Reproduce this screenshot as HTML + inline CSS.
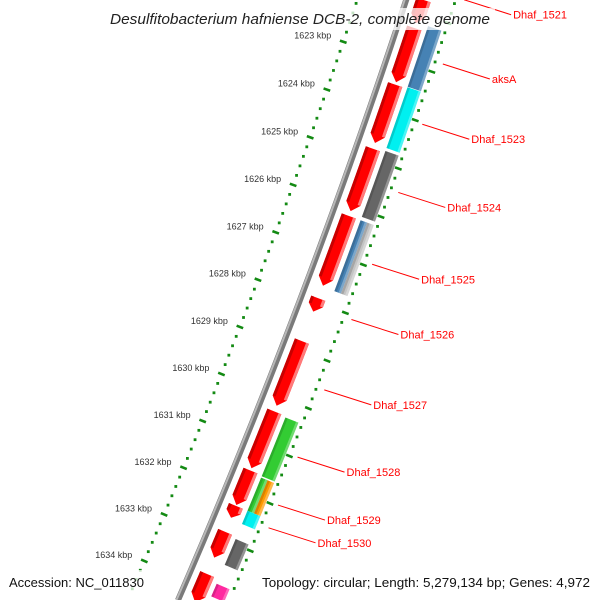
<!DOCTYPE html>
<html><head><meta charset="utf-8"><style>
html,body{margin:0;padding:0;background:#fff;width:600px;height:600px;overflow:hidden;}
svg{display:block;overflow:hidden;}
text{font-family:"Liberation Sans","DejaVu Sans",sans-serif;}
</style></head><body>
<svg id="map" width="600" height="600" viewBox="0 0 600 600" xmlns="http://www.w3.org/2000/svg">
<g id="ruler"></g>
<g id="backbone"></g>
<g id="features"></g>
<g id="labels"></g>
<rect x="105" y="8" width="390" height="22" fill="#fff" opacity="0.75"/>
<text x="300" y="24" text-anchor="middle" font-style="italic" font-size="15" fill="#222" textLength="380" lengthAdjust="spacingAndGlyphs">Desulfitobacterium hafniense DCB-2, complete genome</text>
<rect x="6" y="570" width="142" height="22" fill="#fff" opacity="0.75"/>
<text x="9" y="587" font-size="13" fill="#111" textLength="135" lengthAdjust="spacingAndGlyphs">Accession: NC_011830</text>
<rect x="258" y="570" width="336" height="22" fill="#fff" opacity="0.75"/>
<text x="590" y="587" text-anchor="end" font-size="13" fill="#111" textLength="328" lengthAdjust="spacingAndGlyphs">Topology: circular; Length: 5,279,134 bp; Genes: 4,972</text>
</svg>
<script>
// ---- data ----
const redStarts = [1621.72, 1622.3, 1623.47, 1624.8, 1626.2, 1627.92, 1628.82, 1630.3, 1631.55, 1632.3, 1632.85, 1633.75];
const redEnds   = [1622.2, 1623.42, 1624.68, 1626.1, 1627.66, 1628.2, 1630.18, 1631.5, 1632.28, 1632.55, 1633.4, 1634.35];
const cogStarts = [1622.18, 1623.44, 1624.76, 1626.2, 1626.2, 1630.33, 1631.6, 1631.6, 1632.3, 1632.9, 1633.85];
const cogEnds   = [1623.43, 1624.7, 1626.13, 1627.68, 1627.68, 1631.57, 1632.3, 1632.3, 1632.58, 1633.45, 1634.12];
const cogColors = ["#4682b4","#00f0f0","#666666","#4682b4","#c4c4c4","#33cc33","#33cc33","#ff9900","#00f0f0","#666666","#ff2aa0"];
const cogHalf   = [0,0,0,1,2,0,1,2,0,0,0]; // 0 full, 1 inner half, 2 outer half
const labelNames = ["Dhaf_1521","aksA","Dhaf_1523","Dhaf_1524","Dhaf_1525","Dhaf_1526","Dhaf_1527","Dhaf_1528","Dhaf_1529","Dhaf_1530"];
const labelKbp   = [1621.47, 1622.79, 1624.03, 1625.44, 1626.93, 1628.08, 1629.55, 1630.96, 1631.97, 1632.45];
const innerTickStart = 1622.2, innerTickEnd = 1634.6;
const outerTickStart = 1621.6, outerTickEnd = 1633.8;
const labelTicks = [1623,1624,1625,1626,1627,1628,1629,1630,1631,1632,1633,1634];

// ---- geometry ----
const NS="http://www.w3.org/2000/svg";
const R=7000, th0=Math.atan2(0.355,0.935), k0=1628.08, pxPerKbp=50.9;
const CX=300-R*Math.cos(th0), CY=300-R*Math.sin(th0);
function pt(k,off){const t=th0+(k-k0)*pxPerKbp/R;const r=R+off;return [CX+r*Math.cos(t),CY+r*Math.sin(t)];}
function mk(tag,attrs,parent){const e=document.createElementNS(NS,tag);for(const a in attrs)e.setAttribute(a,attrs[a]);parent.appendChild(e);return e;}
function band(k1,k2,o1,o2){const p=[];const n=6;for(let i=0;i<=n;i++)p.push(pt(k1+(k2-k1)*i/n,o1));for(let i=n;i>=0;i--)p.push(pt(k1+(k2-k1)*i/n,o2));return p.map(q=>q[0].toFixed(2)+","+q[1].toFixed(2)).join(" ");}
function arrow(k1,k2,o1,o2){const a=Math.min(0.16,(k2-k1)*0.5);const kb=k2-a;const p=[];const n=6;for(let i=0;i<=n;i++)p.push(pt(k1+(kb-k1)*i/n,o1));p.push(pt(k2,(o1+o2)/2));for(let i=n;i>=0;i--)p.push(pt(k1+(kb-k1)*i/n,o2));return p.map(q=>q[0].toFixed(2)+","+q[1].toFixed(2)).join(" ");}
function arcPath(k1,k2,off){let d="";for(let i=0;i<=40;i++){const q=pt(k1+(k2-k1)*i/40,off);d+=(i?"L":"M")+q[0].toFixed(2)+" "+q[1].toFixed(2);}return d;}

// backbone
const bb=document.getElementById("backbone");
let e=mk("path",{d:arcPath(1621.8,1634.45,0),stroke:"#7a7a7a","stroke-width":6,fill:"none"},bb);


e=mk("path",{d:arcPath(1621.8,1634.45,-1.5),stroke:"#b8b8b8","stroke-width":2,fill:"none"},bb);



// rulers
const ru=document.getElementById("ruler");
[[-46.5,innerTickStart,innerTickEnd],[47,outerTickStart,outerTickEnd]].forEach(([off,ks,ke])=>{
  for(let i=Math.ceil(ks*5);i<=Math.floor(ke*5);i++){
    const k=i/5;
    if(i%5===0){
      const a=pt(k,off-3.5),b=pt(k,off+3.5);
      e=mk("line",{x1:a[0],y1:a[1],x2:b[0],y2:b[1],stroke:"#138a13","stroke-width":2.6},ru);
      
      
    } else {
      const c=pt(k,off);
      e=mk("rect",{x:c[0]-1.4,y:c[1]-1.4,width:2.8,height:2.8,fill:"#138a13"},ru);
      
      
    }
  }
});
labelTicks.forEach(k=>{
  const c=pt(k,-46.5);
  e=mk("text",{x:c[0]-12,y:c[1]-3,"text-anchor":"end","font-size":"9",fill:"#333"},ru);
  e.textContent=k+" kbp";
  
  
});

// features
const fg=document.getElementById("features");
redStarts.forEach((s,i)=>{
  const en=redEnds[i];
  const g=mk("g",{},fg);
  
  
  mk("polygon",{points:arrow(s,en,9,24),fill:"#ff0000"},g);
  const a=Math.min(0.16,(en-s)*0.5);
  mk("polygon",{points:band(s,en-a,9,12),fill:"#c80000"},g);
  mk("polygon",{points:band(s,en-a,21,24),fill:"#ff7a7a"},g);
});
cogStarts.forEach((s,i)=>{
  let o1=29,o2=43;
  if(cogHalf[i]===1)o2=36; else if(cogHalf[i]===2)o1=36;
  const g=mk("g",{},fg);
  
  
  mk("polygon",{points:band(s,cogEnds[i],o1,o2),fill:cogColors[i]},g);
  mk("polygon",{points:band(s,cogEnds[i],o1,o1+2.5),fill:"#000",opacity:0.15},g);
  mk("polygon",{points:band(s,cogEnds[i],o2-2.5,o2),fill:"#fff",opacity:0.3},g);
});

// labels
const lg=document.getElementById("labels");
labelNames.forEach((nm,i)=>{
  const a=pt(labelKbp[i],55);
  const b=[a[0]+47,a[1]+15];
  e=mk("line",{x1:a[0],y1:a[1],x2:b[0],y2:b[1],stroke:"#ff0000","stroke-width":1},lg);
  
  
  e=mk("text",{x:b[0]+2,y:b[1]+4,"font-size":"11",fill:"#ff0000"},lg);
  e.textContent=nm;
  
  
});
</script>
</body></html>
